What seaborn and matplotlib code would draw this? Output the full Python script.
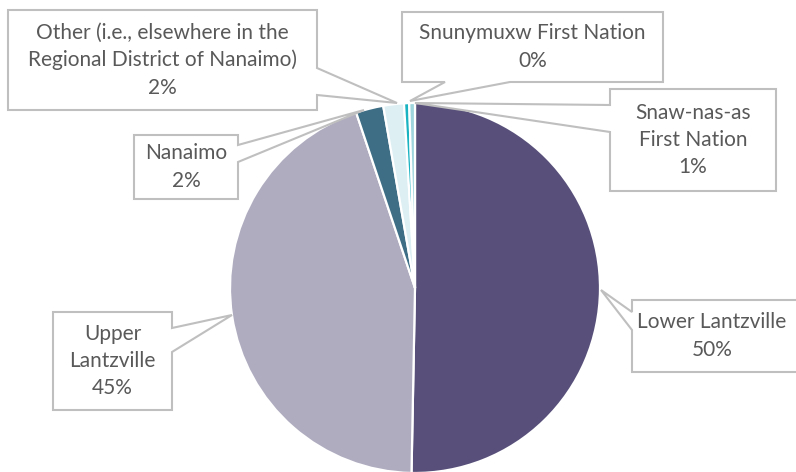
"""Pie of respondent locations with Excel-style callout labels."""

import matplotlib.pyplot as plt
import seaborn as sns
from matplotlib.patches import Polygon

# data (percent of respondents), clockwise from 12 o'clock
locations = [
    "Lower Lantzville",
    "Upper\nLantzville",
    "Nanaimo",
    "Other (i.e., elsewhere in the\nRegional District of Nanaimo)",
    "Snunymuxw First Nation",
    "Snaw-nas-as\nFirst Nation",
]
shares = [50.3, 44.55, 2.4, 1.8, 0.45, 0.5]
colors = ["#58507A", "#AFACBF", "#3D6E85", "#DDEFF3", "#1AB3C2", "#9FD6DE"]

# callout boxes in pixel coords: (x0, y0, x1, y1), pointer side, pointer base, tip
callouts = [
    ((632, 300, 800, 372), "left", (312, 330), (601, 290)),
    ((53, 312, 172, 410), "right", (328, 352), (232, 315)),
    ((134, 135, 238, 199), "right", (145, 162), (364, 110)),
    ((8, 10, 317, 110), "right", (68, 95), (397, 103)),
    ((402, 12, 663, 82), "bottom", (445, 510), (410, 101)),
    ((610, 89, 776, 191), "left", (105, 132), (415, 103)),
]

W, H = 796, 472
CX, CY, R = 415, 288, 185

sns.set_theme(style="white")
plt.rcParams["font.family"] = ["Lato", "DejaVu Sans"]

fig = plt.figure(figsize=(W / 100, H / 100), dpi=100)
ax = fig.add_axes([0, 0, 1, 1])

ax.pie(
    shares,
    colors=colors,
    startangle=90,
    counterclock=False,
    center=(CX, H - CY),
    radius=R,
    wedgeprops=dict(edgecolor="white", linewidth=1.6),
)


def callout_path(box, side, base, tip):
    x0, y0, x1, y1 = box
    a, b = base
    if side == "right":
        pts = [(x0, y0), (x1, y0), (x1, a), tip, (x1, b), (x1, y1), (x0, y1)]
    elif side == "left":
        pts = [(x0, y0), (x1, y0), (x1, y1), (x0, y1), (x0, b), tip, (x0, a)]
    else:
        pts = [(x0, y0), (x1, y0), (x1, y1), (b, y1), tip, (a, y1), (x0, y1)]
    return [(x, H - y) for x, y in pts]


for name, pct, (box, side, base, tip) in zip(locations, shares, callouts):
    poly = Polygon(callout_path(box, side, base, tip), closed=True,
                   facecolor="white", edgecolor="#BFBFBF", linewidth=1.5,
                   zorder=5)
    ax.add_patch(poly)
    x0, y0, x1, y1 = box
    ax.text((x0 + min(x1, W - 4)) / 2, H - (y0 + y1) / 2,
            f"{name}\n{round(pct)}%" if pct >= 1 else f"{name}\n{int(pct + 0.5)}%",
            ha="center", va="center",
            fontsize=15, color="#595959", linespacing=1.45, zorder=6)

ax.set_xlim(0, W)
ax.set_ylim(0, H)
ax.set_aspect("equal")
ax.axis("off")

plt.savefig("out.png", dpi=100)
